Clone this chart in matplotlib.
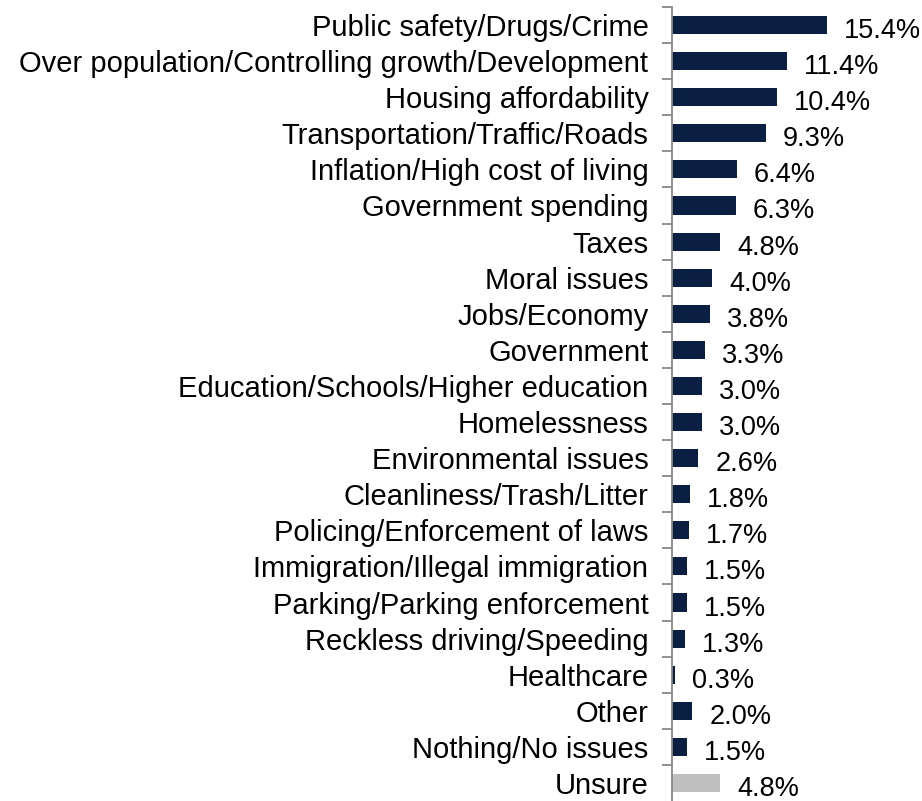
import numpy as np
import matplotlib.pyplot as plt

plt.rcParams['font.family'] = ['Liberation Sans', 'DejaVu Sans']

categories = ["Public safety/Drugs/Crime",
              "Over population/Controlling growth/Development",
              "Housing affordability",
              "Transportation/Traffic/Roads",
              "Inflation/High cost of living",
              "Government spending",
              "Taxes",
              "Moral issues",
              "Jobs/Economy",
              "Government",
              "Education/Schools/Higher education",
              "Homelessness",
              "Environmental issues",
              "Cleanliness/Trash/Litter",
              "Policing/Enforcement of laws",
              "Immigration/Illegal immigration",
              "Parking/Parking enforcement",
              "Reckless driving/Speeding",
              "Healthcare",
              "Other",
              "Nothing/No issues",
              "Unsure"]
values = [15.4, 11.4, 10.4, 9.3, 6.4, 6.3, 4.8, 4.0, 3.8, 3.3, 3.0, 3.0,
          2.6, 1.8, 1.7, 1.5, 1.5, 1.3, 0.3, 2.0, 1.5, 4.8]

navy = "#0b1f42"
gray = "#c0c0c0"
colors = [navy] * (len(values) - 1) + [gray]

fig = plt.figure(figsize=(9.22, 8.01), dpi=100)
ax = fig.add_axes([672 / 922, 0.0, 1 - 672 / 922, 1 - 7 / 801])

y = np.arange(len(values))
ax.barh(y, values, height=0.5, color=colors)
ax.set_ylim(len(values) - 0.5, -0.5)
ax.set_xlim(0, 24.8)

# value labels, a bit right of and below the bar end
for yi, v in zip(y, values):
    ax.annotate(f"{v:.1f}%", (v, yi), xytext=(17, -6), textcoords='offset pixels',
                ha='left', va='center', fontsize=19.5, color='black')

# category labels at centres, tick marks at the boundaries
ax.set_yticks(y)
ax.set_yticklabels(categories, fontsize=21)
ax.tick_params(axis='y', which='major', length=0, pad=17)
ax.set_yticks(np.arange(len(values)) - 0.5, minor=True)
ax.tick_params(axis='y', which='minor', length=7, width=1.3, color='#888888')

ax.set_xticks([])
for s in ['top', 'right', 'bottom']:
    ax.spines[s].set_visible(False)
ax.spines['left'].set_color('#888888')
ax.spines['left'].set_linewidth(1.3)

fig.savefig("out.png", dpi=100)
